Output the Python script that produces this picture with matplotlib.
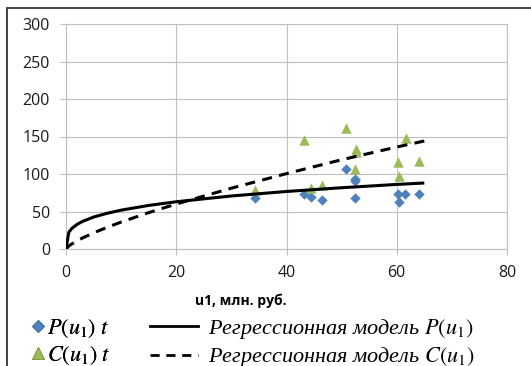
import matplotlib
matplotlib.use("Agg")
import matplotlib.pyplot as plt
from matplotlib.lines import Line2D
from matplotlib.patches import Rectangle

plt.rcParams['mathtext.fontset'] = 'stix'
plt.rcParams['font.family'] = ['Open Sans', 'DejaVu Sans']

# observed points
p_x = [34.3, 43.2, 44.4, 46.4, 50.8, 52.5, 52.5, 52.4, 60.3, 61.5, 60.4, 64.0]
p_y = [68, 74, 70, 65, 107, 94, 91, 68, 73, 73, 63, 74]
c_x = [34.3, 43.2, 44.4, 46.4, 50.8, 52.6, 52.6, 52.4, 61.6, 60.3, 60.4, 64.0]
c_y = [79, 146, 81, 85, 162, 134, 130, 107, 148, 116, 98, 118]

# regression curves
model_x = [0, 0.5, 1, 2, 3, 5, 7.5, 10, 15, 20, 30, 40, 50, 60, 65]
model_p = [0, 22.1, 27.0, 32.8, 36.8, 42.6, 47.7, 51.8, 58.1, 63.0, 70.7, 76.7, 81.7, 86.1, 88.0]
model_c = [0, 3.9, 6.5, 10.9, 14.7, 21.5, 29.0, 35.9, 48.5, 60.0, 81.1, 100.5, 119.0, 136.0, 144.0]

x_ticks = [0, 20, 40, 60, 80]
y_ticks = [0, 50, 100, 150, 200, 250, 300]

W, H = 531, 366
fig = plt.figure(figsize=(W / 100, H / 100), dpi=100)
ax = fig.add_axes([66 / W, 1 - 249 / H, (507 - 66) / W, (249 - 24) / H])

grid_col = '#BFBFBF'
ax.scatter(p_x, p_y, marker='D', s=5.3 ** 2, color='#4F81BD', zorder=3, linewidths=0)
ax.scatter(c_x, c_y, marker='^', s=7.5 ** 2, color='#9BBB59', zorder=3, linewidths=0)
ax.plot(model_x, model_p, color='black', lw=2.2, zorder=4, solid_capstyle='butt')
ln_c, = ax.plot(model_x, model_c, color='black', lw=2.2, zorder=4, dash_capstyle='butt')
ln_c.set_dashes([3.3, 2.4])

ax.set_xlim(0, 80)
ax.set_ylim(0, 300)
ax.set_xticks(x_ticks)
ax.set_yticks(y_ticks)
ax.grid(True, color=grid_col, lw=0.8)
ax.set_axisbelow(True)
for s in ax.spines.values():
    s.set_color(grid_col)
    s.set_linewidth(0.8)
ax.tick_params(length=4.5, width=0.8, color=grid_col, labelsize=11.5,
               labelcolor='#1a1a1a', pad=7)

ax.set_xlabel('u1, млн. руб.', fontsize=10, fontweight='bold')
ax.xaxis.set_label_coords((241 - 66) / 441, -0.2)

# legend, built as two frameless legends
mk_p = Line2D([], [], ls='none', marker='D', ms=6.5, color='#4F81BD', mec='#3a6aa0', mew=0.6)
mk_c = Line2D([], [], ls='none', marker='^', ms=9, color='#9BBB59', mec='#7d9a44', mew=0.6)
h_p = Line2D([], [], color='black', lw=2.0)
h_c = Line2D([], [], color='black', lw=2.0, ls=(0, (3.3, 2.4)))

txt = dict(family='Liberation Serif', style='italic', size=16)
top = 1 - 317 / H
leg1 = fig.legend([mk_p, mk_c], [r'$P(u_1)\ t$', r'$C(u_1)\ t$'],
                  loc='upper left', bbox_to_anchor=(33 / W, top),
                  frameon=False, handlelength=0.47, handletextpad=0.14,
                  labelspacing=0.2, borderpad=0, borderaxespad=0, prop=txt)
fig.add_artist(leg1)
fig.legend([h_p, h_c], [r'Регрессионная модель $P(u_1)$', r'Регрессионная модель $C(u_1)$'],
           loc='upper left', bbox_to_anchor=(150 / W, top),
           frameon=False, handlelength=2.15, handletextpad=0.45,
           labelspacing=0.2, borderpad=0, borderaxespad=0, prop=txt)

# outer chart frame
fig.add_artist(Rectangle((7 / W, -0.1), 1.2, 1 - 8 / H + 0.1, transform=fig.transFigure,
                         fill=False, ec='#333333', lw=1.3))

fig.savefig('out.png', dpi=100)
